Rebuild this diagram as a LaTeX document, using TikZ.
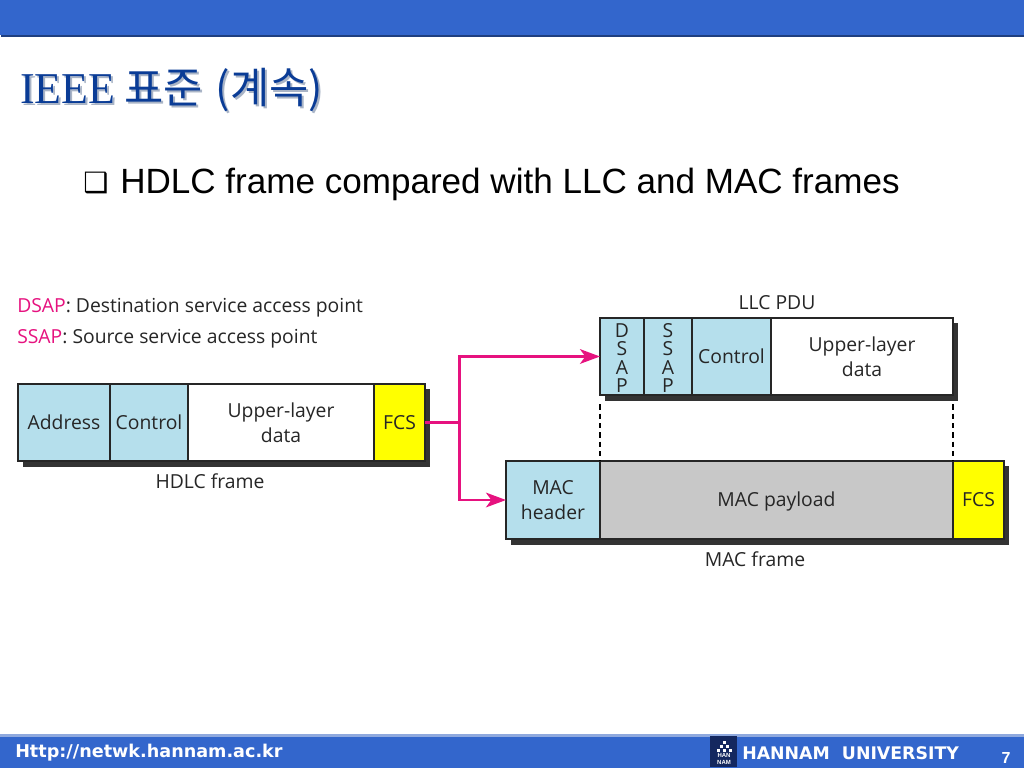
\documentclass[tikz,border=0pt]{standalone}
\usepackage{fontspec}
\setmainfont{Open Sans}
\newfontfamily\titlefont{Liberation Serif}
\newfontfamily\hangulfont{Noto Sans CJK KR}
\newfontfamily\bodyfont{Liberation Sans}
\newfontfamily\symbolfont{DejaVu Sans}
\usetikzlibrary{arrows.meta}
\definecolor{barblue}{HTML}{3366CC}
\definecolor{barline}{HTML}{1F3F7F}
\definecolor{barlight}{HTML}{8FA9DE}
\definecolor{titleblue}{HTML}{0A3C96}
\definecolor{titleshade}{HTML}{A9B4C6}
\definecolor{fieldblue}{HTML}{B5DFEC}
\definecolor{fieldgrey}{HTML}{C8C8C8}
\definecolor{fieldyellow}{HTML}{FFFF00}
\definecolor{linkpink}{HTML}{E6127F}
\definecolor{shadowgrey}{HTML}{333333}
\definecolor{logoblue}{HTML}{14285F}
\def\pw{0.75pt}
\tikzset{
  field/.style={draw=black!85,line width=1.3pt,outer sep=0pt,anchor=north west,inner sep=0pt,align=center,font=\fontsize{14.5}{18.5}\selectfont,text=black!85},
  bluefield/.style={field,fill=fieldblue},
  whitefield/.style={field,fill=white},
  greyfield/.style={field,fill=fieldgrey},
  yellowfield/.style={field,fill=fieldyellow},
  caption/.style={anchor=base,inner sep=0pt,font=\fontsize{14.5}{17}\selectfont,text=black!85},
  legend/.style={anchor=base west,inner sep=0pt,font=\fontsize{14.5}{17}\selectfont,text=black!85},
  link/.style={draw=linkpink,line width=1.9pt},
  guide/.style={draw=black,line width=1pt,dash pattern=on 4pt off 3pt,shorten <=7pt},
  shadowbox/.style={fill=shadowgrey},
  heading/.style={anchor=base west,inner sep=0pt,font=\fontsize{33}{38}\selectfont},
}
\newcommand{\titletext}{\titlefont IEEE\hspace{0.2em}\hangulfont\fontsize{32}{38}\selectfont 표준\hspace{0.3em}(계속)}
\begin{document}
\begin{tikzpicture}[x=0.75pt,y=-0.75pt]
\useasboundingbox (0,0) rectangle (1024,768);
\def\rowh{77}
%bars
\fill[white] (0,0) rectangle (1024,768);
\fill[barline] (1,34) rectangle (1024,37);
\fill[barblue] (0,0) rectangle (1024,35);
\fill[barlight] (0,734) rectangle (1024,738);
\fill[barblue] (0,737) rectangle (1024,768);
%headings
\node[heading,text=titleshade] (titleshadow) at (22,105) {\titletext};
\node[heading,text=titleblue] (title) at (20,103) {\titletext};
\node[anchor=base west,inner sep=0pt,font=\fontsize{21}{24}\selectfont] (bullet) at (83,192) {\symbolfont ❑};
\node[anchor=base west,inner sep=0pt,font=\fontsize{26.3}{30}\selectfont\bodyfont] (subtitle) at (120,193) {HDLC frame compared with LLC and MAC frames};
%legend
\node[legend] (dsapnote) at (17,312) {\textcolor{linkpink}{DSAP}: Destination service access point};
\node[legend] (ssapnote) at (17,343) {\textcolor{linkpink}{SSAP}: Source service access point};
%shadows
\fill[shadowbox] (23,389) rectangle (430,467);
\fill[shadowbox] (605,323) rectangle (958,401);
\fill[shadowbox] (511,466) rectangle (1009,545);
%hdlc frame
\node[bluefield,minimum width=92*\pw,minimum height=\rowh*\pw] (address) at (18,384) {Address};
\node[bluefield,minimum width=78*\pw,minimum height=\rowh*\pw] (hdlccontrol) at (110,384) {Control};
\node[whitefield,minimum width=186*\pw,minimum height=\rowh*\pw] (hdlcdata) at (188,384) {Upper-layer\\data};
\node[yellowfield,minimum width=51*\pw,minimum height=\rowh*\pw] (hdlcfcs) at (374,384) {FCS};
\node[caption] (hdlclabel) at (210,488) {HDLC frame};
%llc pdu
\node[caption] (llclabel) at (777,309) {LLC PDU};
\node[bluefield,minimum width=44*\pw,minimum height=\rowh*\pw,font=\fontsize{14.5}{13.8}\selectfont] (dsap) at (600,318) {\rule{0pt}{12.5pt}D\\S\\A\\P};
\node[bluefield,minimum width=48*\pw,minimum height=\rowh*\pw,font=\fontsize{14.5}{13.8}\selectfont] (ssap) at (644,318) {\rule{0pt}{12.5pt}S\\S\\A\\P};
\node[bluefield,minimum width=79*\pw,minimum height=\rowh*\pw] (llccontrol) at (692,318) {Control};
\node[whitefield,minimum width=182*\pw,minimum height=\rowh*\pw] (llcdata) at (771,318) {Upper-layer\\data};
%mac frame
\node[bluefield,minimum width=94*\pw,minimum height=78*\pw] (macheader) at (506,461) {MAC\\header};
\node[greyfield,minimum width=353*\pw,minimum height=78*\pw] (macpayload) at (600,461) {\rule{0pt}{13pt}MAC payload};
\node[yellowfield,minimum width=51*\pw,minimum height=78*\pw] (macfcs) at (953,461) {FCS};
\node[caption] (maclabel) at (755,566) {MAC frame};
%links
\coordinate (split) at (459.5,422.5);
\draw[link] (hdlcfcs.east) -- (split);
\draw[link,-{Stealth[length=15pt,width=11pt,inset=4pt]}] (split) |- (dsap.west);
\draw[link,-{Stealth[length=15pt,width=11pt,inset=4pt]}] (split) |- (macheader.west);
\draw[guide] (dsap.south west) -- (macpayload.north west);
\draw[guide] (llcdata.south east) -- (macpayload.north east);
%footer
\node[anchor=base west,inner sep=0pt,text=white,font=\fontsize{13.2}{15}\selectfont\symbolfont\bfseries] (site) at (15,757) {Http://netwk.hannam.ac.kr};
\node[fill=logoblue,text=white,inner sep=0pt,minimum width=27*\pw,minimum height=31*\pw,anchor=north west] (logo) at (710,736) {};
\foreach\x/\y in {723/741,720/745,726/745,717/749,723/749,729/749} {
  \fill[white] (\x,\y) rectangle +(3,3);
}
\node[text=white,inner sep=0pt,align=center,font=\fontsize{4.5}{5}\selectfont\bodyfont\bfseries] (logotext) at (724,759) {HAN\\NAM};
\node[anchor=base west,inner sep=0pt,text=white,font=\fontsize{13}{15}\selectfont\symbolfont\bfseries] (school) at (742,759) {HANNAM\ \ UNIVERSITY};
\node[anchor=base,inner sep=0pt,text=white,font=\fontsize{12}{14}\selectfont\bodyfont\bfseries] (pageno) at (1006,763) {7};
\end{tikzpicture}
\end{document}
